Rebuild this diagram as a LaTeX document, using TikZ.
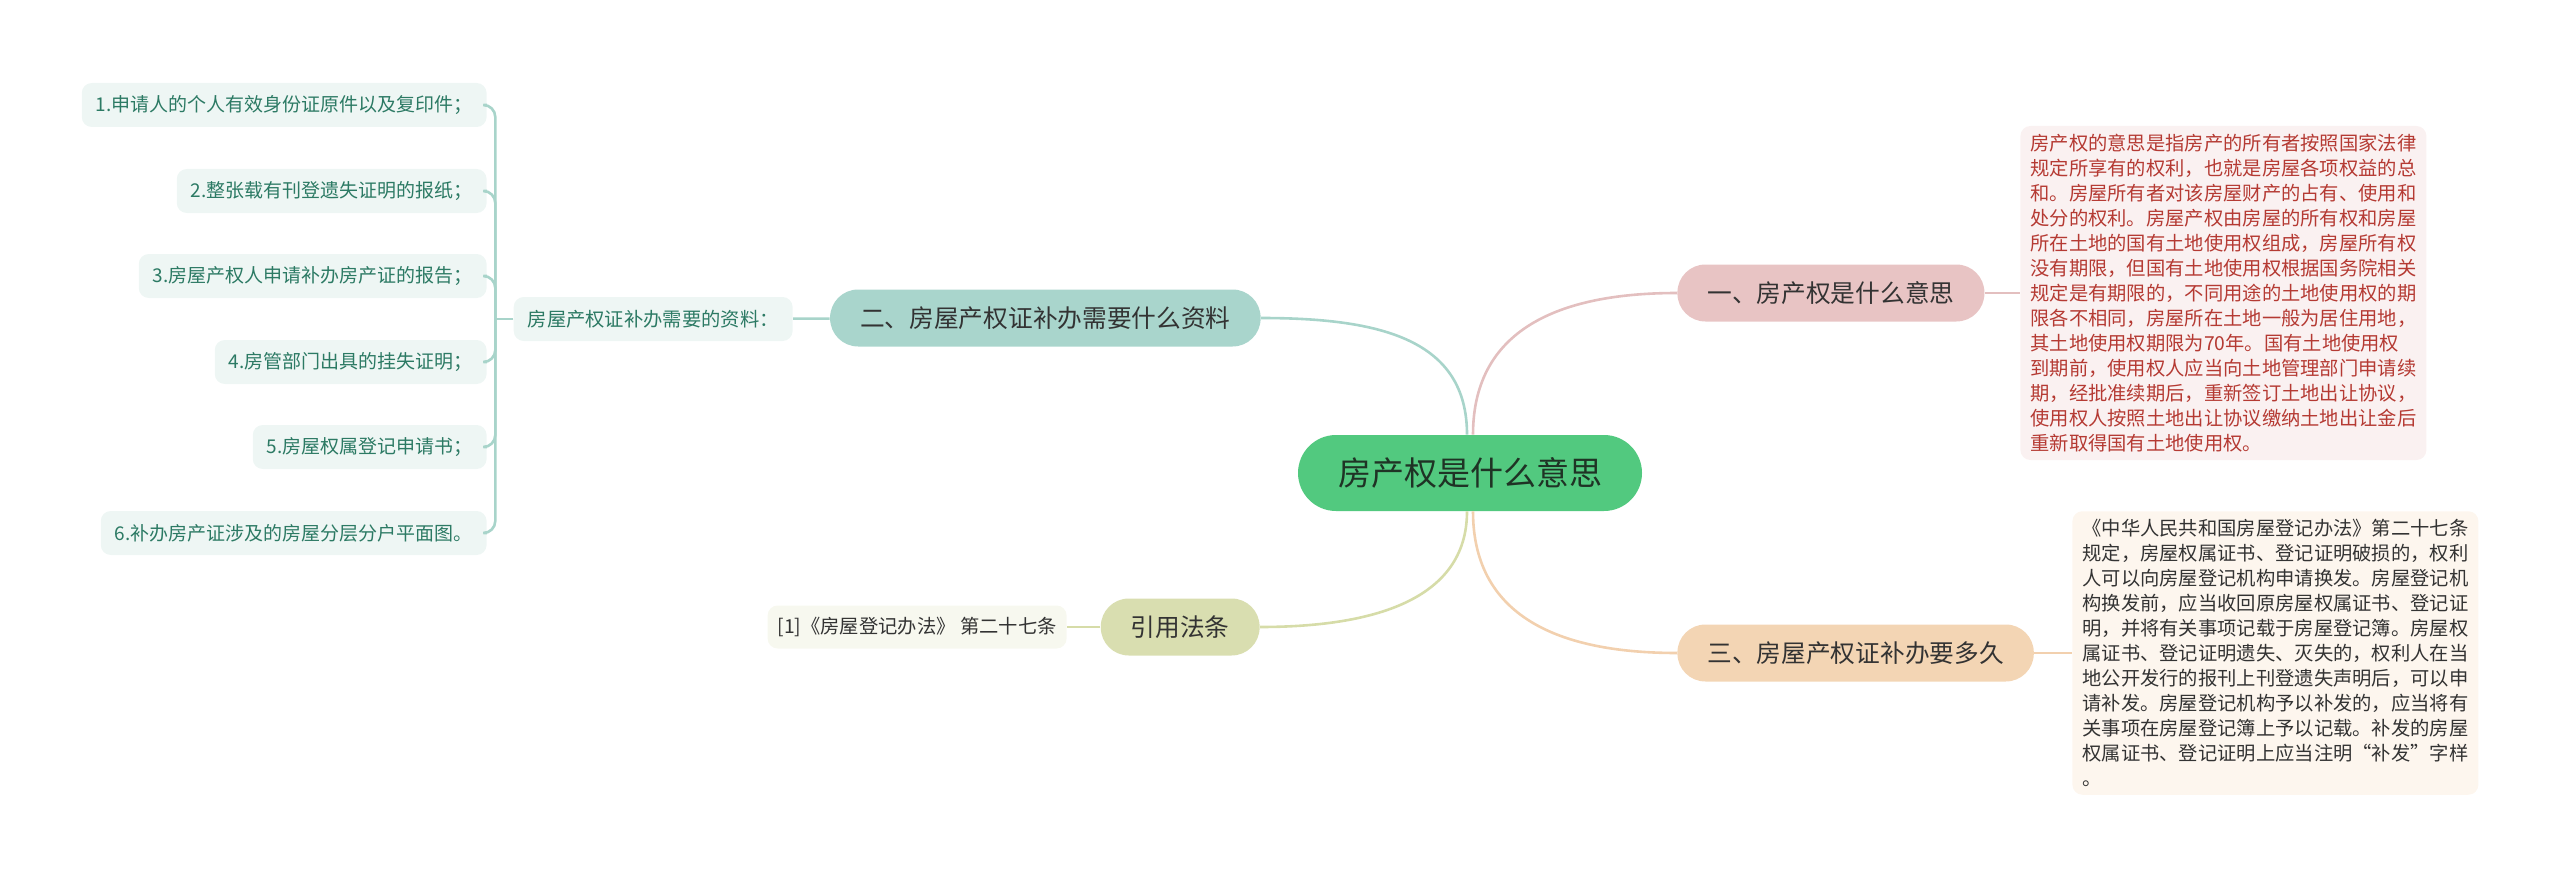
\documentclass[tikz,border=0pt]{standalone}
\usepackage{fontspec}
\setmainfont{Noto Sans CJK SC}
\usepackage{xcolor}
\usepackage{tikz}
\usetikzlibrary{positioning,calc}

\definecolor{rootfill}{HTML}{52C97F}
\definecolor{rootink}{HTML}{1F3325}
\definecolor{ink}{HTML}{333333}
\definecolor{pinkfill}{HTML}{E8C4C4}
\definecolor{pinkln}{HTML}{E3BFBF}
\definecolor{pinkbg}{HTML}{FAF1F1}
\definecolor{redink}{HTML}{B53A33}
\definecolor{tealfill}{HTML}{A9D5CC}
\definecolor{tealln}{HTML}{A8D4CA}
\definecolor{tealbg}{HTML}{EEF6F4}
\definecolor{tealink}{HTML}{2C7A64}
\definecolor{peachfill}{HTML}{F3D5B4}
\definecolor{peachln}{HTML}{F2D0AE}
\definecolor{peachbg}{HTML}{FDF6EE}
\definecolor{olivefill}{HTML}{D9DEB0}
\definecolor{oliveln}{HTML}{D6DCA8}
\definecolor{olivebg}{HTML}{F7F8EF}

\begin{document}
\begin{tikzpicture}[x=0.5pt,y=-0.5pt,
  root/.style={rounded corners=19pt,fill=rootfill,text=rootink,minimum height=38pt,inner xsep=20pt,font=\fontsize{16.5}{20}\selectfont},
  br/.style={rounded corners=14pt,minimum height=28.5pt,inner xsep=15pt,text=ink,font=\fontsize{12.35}{15}\selectfont},
  note/.style={rounded corners=5pt,inner xsep=5pt,inner ysep=4pt,align=left,font=\fontsize{9.65}{12.5}\selectfont},
  item/.style={rounded corners=5pt,fill=tealbg,text=tealink,minimum height=22pt,inner xsep=7pt,font=\fontsize{9.5}{12}\selectfont},
  ln/.style={line width=1.3pt}]
\useasboundingbox (0,0) rectangle (2560,883);

\node[root] (root) at (1470,473) {房产权是什么意思};

% right side
\node[br,fill=pinkfill,anchor=west] (b1) at (1677,293) {一、房产权是什么意思};
\node[note,fill=pinkbg,text=redink,anchor=west] (n1) at (2020,293)
 {房产权的意思是指房产的所有者按照国家法律\\
  规定所享有的权利，也就是房屋各项权益的总\\
  和。房屋所有者对该房屋财产的占有、使用和\\
  处分的权利。房屋产权由房屋的所有权和房屋\\
  所在土地的国有土地使用权组成，房屋所有权\\
  没有期限，但国有土地使用权根据国务院相关\\
  规定是有期限的，不同用途的土地使用权的期\\
  限各不相同，房屋所在土地一般为居住用地，\\
  其土地使用权期限为70年。国有土地使用权\\
  到期前，使用权人应当向土地管理部门申请续\\
  期，经批准续期后，重新签订土地出让协议，\\
  使用权人按照土地出让协议缴纳土地出让金后\\
  重新取得国有土地使用权。};
\node[br,fill=peachfill,anchor=west] (b3) at (1677,653) {三、房屋产权证补办要多久};
\node[note,fill=peachbg,text=ink,anchor=west] (n3) at (2072,653)
 {《中华人民共和国房屋登记办法》第二十七条\\
  规定，房屋权属证书、登记证明破损的，权利\\
  人可以向房屋登记机构申请换发。房屋登记机\\
  构换发前，应当收回原房屋权属证书、登记证\\
  明，并将有关事项记载于房屋登记簿。房屋权\\
  属证书、登记证明遗失、灭失的，权利人在当\\
  地公开发行的报刊上刊登遗失声明后，可以申\\
  请补发。房屋登记机构予以补发的，应当将有\\
  关事项在房屋登记簿上予以记载。补发的房屋\\
  权属证书、登记证明上应当注明“补发”字样\\
  。};

% left side
\node[br,fill=tealfill,anchor=east] (b2) at (1261,318) {二、房屋产权证补办需要什么资料};
\node[note,fill=tealbg,text=tealink,inner xsep=7pt,minimum height=22pt,anchor=east] (sub) at (793,319) {房屋产权证补办需要的资料：};
\node[br,fill=olivefill,anchor=east] (b4) at (1260,627) {引用法条};
\node[note,fill=olivebg,text=ink,minimum height=21.5pt,anchor=east] (n4) at (1067,627) {[1]《房屋登记办法》 第二十七条};

\foreach \i/\y/\t in {1/105/1.申请人的个人有效身份证原件以及复印件；,
  2/191/2.整张载有刊登遗失证明的报纸；,
  3/276/3.房屋产权人申请补办房产证的报告；,
  4/362/4.房管部门出具的挂失证明；,
  5/447/5.房屋权属登记申请书；,
  6/533/6.补办房产证涉及的房屋分层分户平面图。}
  \node[item,anchor=east] (m\i) at (487,\y) {\t};

% connectors
\draw[ln,pinkln] ($(root.north)+(3,0)$) .. controls +(0,-110) and +(-110,0) .. (b1.west);
\draw[ln,tealln] ($(root.north)+(-3,0)$) .. controls +(0,-95) and +(120,0) .. (b2.east);
\draw[ln,peachln] ($(root.south)+(3,0)$) .. controls +(0,110) and +(-110,0) .. (b3.west);
\draw[ln,oliveln] ($(root.south)+(-3,0)$) .. controls +(0,90) and +(110,0) .. (b4.east);
\draw[ln,pinkln] (b1) -- (n1);
\draw[ln,peachln] (b3) -- (n3);
\draw[ln,tealln] (b2) -- (sub);
\draw[ln,oliveln] (b4) -- (n4);
\coordinate (jn) at ($(sub.west)+(-18,0)$);
\draw[ln,tealln] (sub.west) -- (jn);
\foreach \i in {1,...,6} \draw[ln,tealln,rounded corners=6pt] (jn) |- (m\i.east);
\end{tikzpicture}
\end{document}
